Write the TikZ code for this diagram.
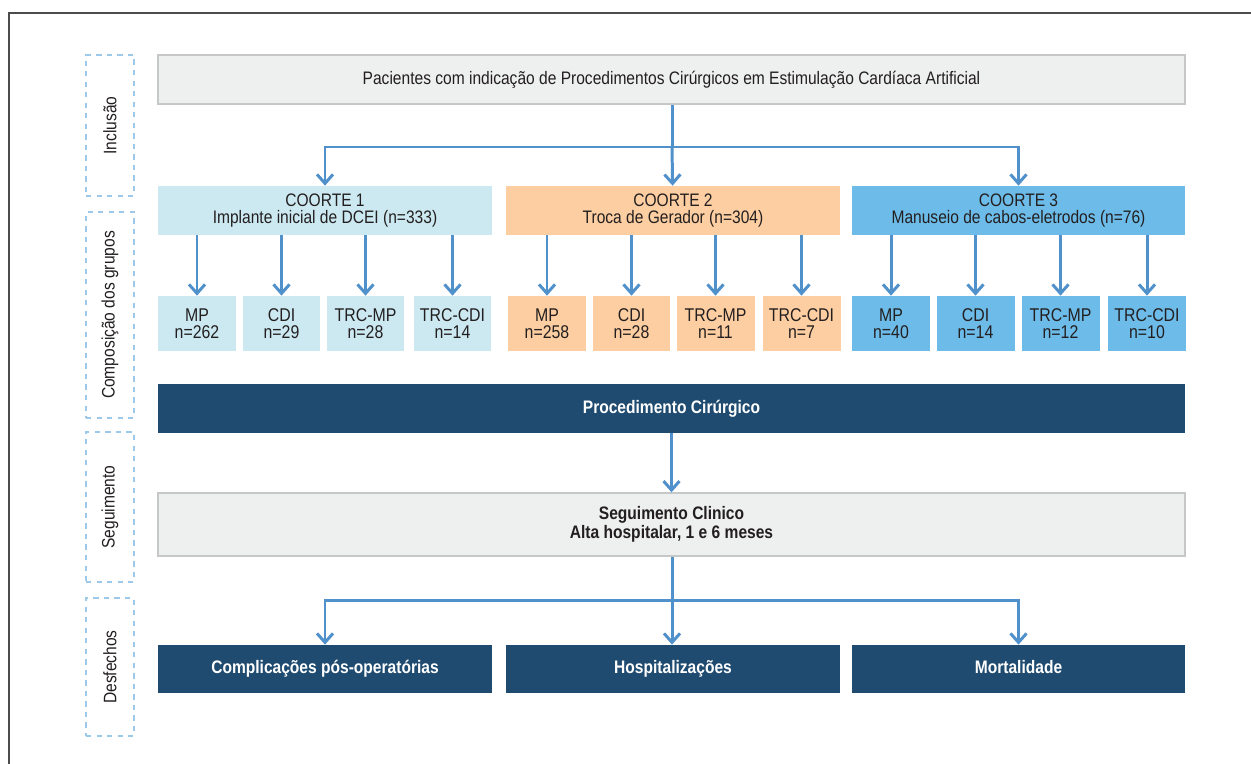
\documentclass[tikz,border=0pt]{standalone}
\usepackage{fontspec}
\setmainfont{Liberation Sans}[FakeStretch=0.86]
\usepackage{tikz}
\usetikzlibrary{arrows.meta}
\definecolor{boxgray}{HTML}{EEEFEF}
\definecolor{linegray}{HTML}{C6C8C8}
\definecolor{coorteA}{HTML}{CCE9F1}
\definecolor{coorteB}{HTML}{FDCEA1}
\definecolor{coorteC}{HTML}{6CBBE8}
\definecolor{navy}{HTML}{1F4B70}
\definecolor{arrowblue}{HTML}{5090CB}
\definecolor{dashblue}{HTML}{9CC8EA}
\definecolor{ink}{HTML}{231F20}
\tikzstyle{box} = [rectangle, inner sep=0pt, align=center, text=ink, font={\fontsize{10.3}{9.6}\selectfont}]
\tikzstyle{wide} = [box, minimum width=20.54cm, minimum height=0.98cm]
\tikzstyle{grey} = [fill=boxgray, draw=linegray, line width=0.8pt]
\tikzstyle{dark} = [fill=navy, text=white, font={\bfseries\fontsize{10.3}{9.6}\selectfont}]
\tikzstyle{coorte} = [box, minimum width=6.68cm, minimum height=0.98cm]
\tikzstyle{sub} = [box, minimum width=1.56cm, minimum height=1.1cm, font={\fontsize{10.5}{9.8}\selectfont}]
\tikzstyle{outcome} = [box, dark, minimum width=6.68cm, minimum height=0.96cm, text height=7.5pt, text depth=2.4pt]
\tikzstyle{side} = [draw=dashblue, dashed, line width=0.8pt, minimum width=0.96cm, inner sep=0pt, text=ink, font={\fontsize{10.3}{9.6}\selectfont}]
\tikzstyle{arr} = [draw=arrowblue, line width=1.7pt, -{Straight Barb[length=1.8mm,width=3.2mm]}]
\tikzstyle{link} = [draw=arrowblue, line width=1.7pt]

\begin{document}
\begin{tikzpicture}[x=0.02cm,y=-0.02cm]
    \useasboundingbox (0,0) rectangle (1251,764);
    \draw[gray!60!black, line width=0.9pt] (9,764) -- (9,13) -- (1251,13);

    \node[side, minimum height=2.82cm](incl) at (110,125.5){\rotatebox{90}{Inclusão}};
    \node[side, minimum height=4.12cm](comp) at (110,315){\rotatebox{90}{Composição dos grupos}};
    \node[side, minimum height=3cm](segl) at (110,507){\rotatebox{90}{Seguimento}};
    \node[side, minimum height=2.76cm](desf) at (110,667){\rotatebox{90}{Desfechos}};

    \node[wide,grey](top) at (671.5,79.5){Pacientes com indicação de Procedimentos Cirúrgicos em Estimulação Cardíaca Artificial};

    \node[coorte,fill=coorteA](c1) at (325,210.5){COORTE 1\\Implante inicial de DCEI (n=333)};
    \node[coorte,fill=coorteB](c2) at (673,210.5){COORTE 2\\Troca de Gerador (n=304)};
    \node[coorte,fill=coorteC](c3) at (1018.5,210.5){COORTE 3\\Manuseio de cabos-eletrodos (n=76)};

    \node[sub,fill=coorteA](s11) at (197,323.5){MP\\n=262};
    \node[sub,fill=coorteA](s12) at (281.5,323.5){CDI\\n=29};
    \node[sub,fill=coorteA](s13) at (365.5,323.5){TRC-MP\\n=28};
    \node[sub,fill=coorteA](s14) at (452.5,323.5){TRC-CDI\\n=14};
    \node[sub,fill=coorteB](s21) at (547,323.5){MP\\n=258};
    \node[sub,fill=coorteB](s22) at (631.5,323.5){CDI\\n=28};
    \node[sub,fill=coorteB](s23) at (715.5,323.5){TRC-MP\\n=11};
    \node[sub,fill=coorteB](s24) at (801.5,323.5){TRC-CDI\\n=7};
    \node[sub,fill=coorteC](s31) at (891,323.5){MP\\n=40};
    \node[sub,fill=coorteC](s32) at (975.5,323.5){CDI\\n=14};
    \node[sub,fill=coorteC](s33) at (1060.5,323.5){TRC-MP\\n=12};
    \node[sub,fill=coorteC](s34) at (1147,323.5){TRC-CDI\\n=10};

    \node[wide,dark](proc) at (671.5,408.5){Procedimento Cirúrgico};
    \node[wide,grey,minimum height=1.26cm,font={\bfseries\fontsize{10.3}{9.6}\selectfont}](seg) at (671.5,524.5){Seguimento Clinico\\Alta hospitalar, 1 e 6 meses};

    \node[outcome](o1) at (325,669){Complicações pós-operatórias};
    \node[outcome](o2) at (673,669){Hospitalizações};
    \node[outcome](o3) at (1018.5,669){Mortalidade};

    \coordinate (b1) at (672,147);
    \draw[link](top.south -| b1) -- (b1);
    \draw[arr](b1) -| (c1);
    \draw[arr](b1) -- (c2);
    \draw[arr](b1) -| (c3);

    \foreach \c in {1,2,3}
      \foreach \s in {1,2,3,4}
        \draw[arr](c\c.south -| s\c\s.north) -- (s\c\s.north);

    \draw[arr](proc.south -| seg.north) -- (seg.north);

    \coordinate (b2) at (672,600);
    \draw[link](seg.south -| b2) -- (b2);
    \draw[arr](b2) -| (o1);
    \draw[arr](b2) -- (o2.north -| b2);
    \draw[arr](b2) -| (o3);
  \end{tikzpicture}
\end{document}
